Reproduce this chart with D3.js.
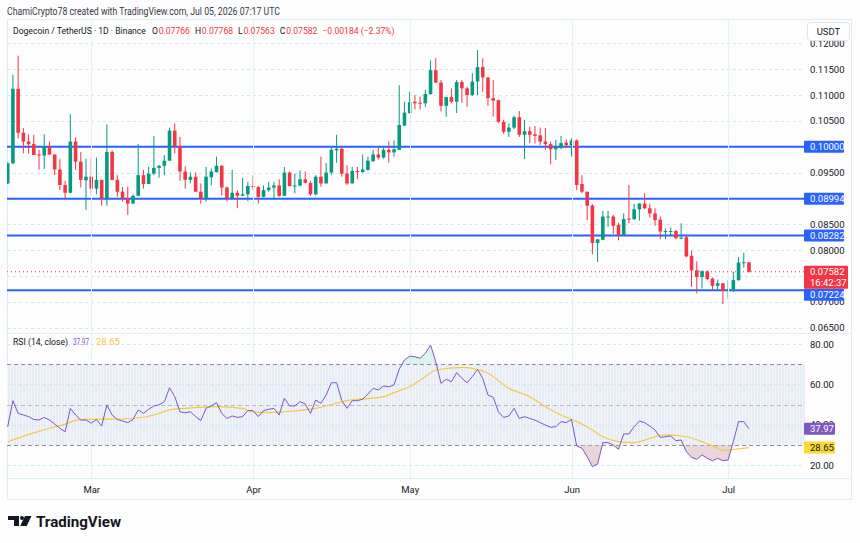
<!DOCTYPE html>
<html>
<head>
<meta charset="utf-8">
<title>Dogecoin / TetherUS 1D</title>
<style>
  body { margin: 0; background: #fdfdfd; }
  svg text { font-family: Roboto, "Liberation Sans", Arial, sans-serif; }
  .axis path, .axis line { display: none; }
  .axis text { font-size: 9.5px; fill: #131722; }
</style>
</head>
<body>
<script src="https://cdn.jsdelivr.net/npm/d3@7/dist/d3.min.js"></script>
<script>
var width = 860, height = 543;

// daily candles, first one on Feb 13 2026
var firstDay = "2026-02-13";
var opens = [
  0.0929, 0.0968, 0.1112, 0.1027, 0.1010, 0.1005, 0.0985, 0.0983, 0.1001, 0.0985,
  0.0956, 0.0926, 0.0911, 0.1010, 0.0971, 0.0935, 0.0942, 0.0919, 0.0936, 0.0900,
  0.0990, 0.0936, 0.0913, 0.0900, 0.0890, 0.0905, 0.0945, 0.0928, 0.0948, 0.0959,
  0.0963, 0.0973, 0.1031, 0.1001, 0.0952, 0.0936, 0.0942, 0.0913, 0.0900, 0.0941,
  0.0951, 0.0963, 0.0921, 0.0900, 0.0911, 0.0905, 0.0908, 0.0924, 0.0922, 0.0903,
  0.0916, 0.0921, 0.0925, 0.0905, 0.0950, 0.0924, 0.0925, 0.0937, 0.0930, 0.0908,
  0.0942, 0.0929, 0.0950, 0.0993, 0.0996, 0.0948, 0.0929, 0.0953, 0.0951, 0.0955,
  0.0972, 0.0985, 0.0979, 0.0994, 0.0989, 0.0994, 0.1041, 0.1065, 0.1087, 0.1085,
  0.1084, 0.1102, 0.1148, 0.1124, 0.1079, 0.1096, 0.1087, 0.1125, 0.1113, 0.1100,
  0.1126, 0.1154, 0.1134, 0.1094, 0.1090, 0.1048, 0.1029, 0.1037, 0.1057, 0.1023,
  0.1030, 0.1024, 0.1022, 0.1010, 0.1005, 0.0995, 0.0998, 0.1008, 0.1003, 0.1012,
  0.0928, 0.0913, 0.0886, 0.0814, 0.0820, 0.0863, 0.0865, 0.0849, 0.0829, 0.0861,
  0.0860, 0.0879, 0.0890, 0.0881, 0.0871, 0.0859, 0.0835, 0.0836, 0.0837, 0.0822,
  0.0825, 0.0789, 0.0761, 0.0748, 0.0759, 0.0745, 0.0731, 0.0736, 0.0721, 0.0724,
  0.0742, 0.0775, 0.07766
];
var highs = [
  0.0970, 0.1139, 0.1176, 0.1036, 0.1024, 0.1023, 0.0994, 0.1024, 0.1010, 0.0985,
  0.0976, 0.0934, 0.1063, 0.1018, 0.0990, 0.0977, 0.0979, 0.0979, 0.0936, 0.1043,
  0.0993, 0.0945, 0.0922, 0.0923, 0.0908, 0.1005, 0.0955, 0.0961, 0.1021, 0.0965,
  0.0984, 0.1037, 0.1045, 0.1019, 0.0962, 0.0950, 0.0950, 0.0929, 0.0961, 0.0958,
  0.0981, 0.0965, 0.0923, 0.0955, 0.0916, 0.0940, 0.0932, 0.0945, 0.0924, 0.0925,
  0.0932, 0.0932, 0.0937, 0.0961, 0.0952, 0.0948, 0.0954, 0.0952, 0.0934, 0.0945,
  0.0981, 0.0968, 0.1000, 0.1023, 0.1000, 0.0964, 0.0961, 0.0961, 0.0985, 0.0981,
  0.0994, 0.1000, 0.1000, 0.1010, 0.1012, 0.1119, 0.1087, 0.1106, 0.1100, 0.1097,
  0.1110, 0.1167, 0.1171, 0.1129, 0.1097, 0.1113, 0.1129, 0.1129, 0.1116, 0.1142,
  0.1187, 0.1171, 0.1134, 0.1129, 0.1091, 0.1052, 0.1045, 0.1060, 0.1069, 0.1052,
  0.1039, 0.1040, 0.1037, 0.1036, 0.1010, 0.1013, 0.1021, 0.1014, 0.1016, 0.1014,
  0.0945, 0.0913, 0.0889, 0.0821, 0.0876, 0.0876, 0.0868, 0.0853, 0.0871, 0.0926,
  0.0889, 0.0891, 0.0910, 0.0890, 0.0881, 0.0865, 0.0842, 0.0844, 0.0839, 0.0852,
  0.0827, 0.0799, 0.0778, 0.0761, 0.0761, 0.0747, 0.0743, 0.0736, 0.0742, 0.0758,
  0.0787, 0.0795, 0.07768
];
var lows = [
  0.0928, 0.0966, 0.1016, 0.0987, 0.0987, 0.0984, 0.0956, 0.0957, 0.0984, 0.0945,
  0.0916, 0.0900, 0.0910, 0.0955, 0.0921, 0.0878, 0.0908, 0.0908, 0.0886, 0.0886,
  0.0935, 0.0903, 0.0894, 0.0868, 0.0890, 0.0904, 0.0919, 0.0928, 0.0945, 0.0940,
  0.0945, 0.0973, 0.0987, 0.0934, 0.0919, 0.0929, 0.0913, 0.0890, 0.0894, 0.0925,
  0.0950, 0.0906, 0.0894, 0.0898, 0.0881, 0.0905, 0.0895, 0.0916, 0.0890, 0.0902,
  0.0913, 0.0898, 0.0903, 0.0905, 0.0923, 0.0910, 0.0923, 0.0929, 0.0905, 0.0906,
  0.0923, 0.0929, 0.0945, 0.0969, 0.0942, 0.0926, 0.0929, 0.0937, 0.0950, 0.0954,
  0.0971, 0.0975, 0.0977, 0.0969, 0.0981, 0.0994, 0.1040, 0.1064, 0.1072, 0.1072,
  0.1077, 0.1100, 0.1123, 0.1068, 0.1058, 0.1084, 0.1065, 0.1085, 0.1077, 0.1098,
  0.1100, 0.1106, 0.1079, 0.1058, 0.1046, 0.1025, 0.1019, 0.1034, 0.1019, 0.0976,
  0.1007, 0.1006, 0.1003, 0.0994, 0.0966, 0.0974, 0.0995, 0.0998, 0.0981, 0.0916,
  0.0910, 0.0858, 0.0792, 0.0777, 0.0819, 0.0845, 0.0831, 0.0819, 0.0828, 0.0852,
  0.0858, 0.0857, 0.0879, 0.0863, 0.0847, 0.0821, 0.0821, 0.0829, 0.0821, 0.0821,
  0.0786, 0.0729, 0.0716, 0.0726, 0.0742, 0.0723, 0.0723, 0.0696, 0.0706, 0.0719,
  0.0741, 0.0766, 0.07563
];
var closes = [
  0.0968, 0.1112, 0.1027, 0.1010, 0.1005, 0.0984, 0.0983, 0.1001, 0.0985, 0.0956,
  0.0926, 0.0911, 0.1010, 0.0971, 0.0936, 0.0942, 0.0919, 0.0936, 0.0900, 0.0990,
  0.0936, 0.0913, 0.0900, 0.0890, 0.0905, 0.0945, 0.0928, 0.0948, 0.0959, 0.0963,
  0.0973, 0.1031, 0.1001, 0.0952, 0.0936, 0.0942, 0.0913, 0.0900, 0.0942, 0.0952,
  0.0963, 0.0921, 0.0900, 0.0911, 0.0905, 0.0908, 0.0924, 0.0922, 0.0903, 0.0916,
  0.0921, 0.0925, 0.0905, 0.0950, 0.0924, 0.0925, 0.0937, 0.0930, 0.0908, 0.0942,
  0.0929, 0.0950, 0.0994, 0.0996, 0.0948, 0.0929, 0.0953, 0.0951, 0.0956, 0.0973,
  0.0985, 0.0979, 0.0994, 0.0989, 0.0995, 0.1042, 0.1066, 0.1086, 0.1084, 0.1084,
  0.1102, 0.1148, 0.1124, 0.1079, 0.1096, 0.1087, 0.1125, 0.1113, 0.1100, 0.1126,
  0.1154, 0.1134, 0.1094, 0.1089, 0.1048, 0.1029, 0.1037, 0.1057, 0.1023, 0.1030,
  0.1023, 0.1021, 0.1010, 0.1005, 0.0995, 0.0999, 0.1007, 0.1003, 0.1012, 0.0926,
  0.0913, 0.0886, 0.0814, 0.0821, 0.0865, 0.0865, 0.0847, 0.0829, 0.0860, 0.0859,
  0.0879, 0.0890, 0.0881, 0.0871, 0.0858, 0.0836, 0.0837, 0.0837, 0.0823, 0.0824,
  0.0788, 0.0761, 0.0748, 0.0759, 0.0744, 0.0731, 0.0736, 0.0721, 0.0724, 0.0742,
  0.0776, 0.07766, 0.07582
];
var rsiValues = [
  39.0, 51.9, 45.6, 44.8, 44.0, 42.6, 42.3, 43.6, 42.3, 40.3,
  38.2, 36.5, 48.1, 44.8, 42.3, 42.3, 40.7, 42.6, 39.3, 49.8,
  44.8, 42.6, 41.8, 41.0, 42.6, 47.3, 45.6, 47.6, 49.3, 49.8,
  51.4, 58.3, 53.9, 46.4, 45.9, 46.4, 44.0, 42.0, 48.1, 49.3,
  50.9, 45.6, 43.1, 44.3, 43.6, 44.0, 47.0, 47.0, 44.0, 47.0,
  47.6, 48.1, 44.8, 53.1, 49.3, 49.3, 51.4, 50.2, 45.6, 52.2,
  50.6, 54.7, 60.8, 60.8, 51.9, 48.1, 51.9, 51.9, 52.6, 55.2,
  58.0, 57.2, 59.2, 58.8, 59.7, 67.5, 72.1, 74.0, 73.7, 72.9,
  75.4, 79.5, 71.2, 60.5, 62.5, 61.3, 65.8, 63.0, 60.8, 63.8,
  67.4, 63.0, 54.7, 53.6, 46.4, 43.6, 44.3, 48.1, 43.1, 44.0,
  43.1, 42.3, 41.0, 39.8, 38.7, 39.0, 41.5, 41.0, 42.6, 29.4,
  28.3, 24.1, 19.2, 20.5, 31.1, 31.1, 29.9, 27.8, 35.4, 35.4,
  39.0, 41.8, 41.0, 39.3, 37.4, 33.7, 34.0, 34.4, 32.1, 32.4,
  26.6, 23.8, 22.8, 25.0, 23.3, 22.1, 23.3, 22.1, 22.5, 31.6,
  41.5, 41.5, 37.97
];
// RSI moving average, read at these days
var maDays = [
  "2026-02-13", "2026-02-18", "2026-02-21", "2026-02-24", "2026-02-27", "2026-03-07",
  "2026-03-13", "2026-03-16", "2026-03-19", "2026-03-25", "2026-03-30", "2026-04-01",
  "2026-04-04", "2026-04-07", "2026-04-13", "2026-04-19", "2026-04-26", "2026-04-29",
  "2026-05-01", "2026-05-04", "2026-05-06", "2026-05-11", "2026-05-13", "2026-05-16",
  "2026-05-20", "2026-05-24", "2026-05-27", "2026-05-30", "2026-06-02", "2026-06-05",
  "2026-06-07", "2026-06-10", "2026-06-13", "2026-06-16", "2026-06-19", "2026-06-23",
  "2026-06-26", "2026-06-29", "2026-06-30", "2026-07-02", "2026-07-05"
];
var maValues = [
  31.5, 35.9, 38.2, 40.3, 42.6, 42.8,
  44.8, 47.3, 48.1, 48.9, 48.1, 46.2,
  46.0, 46.4, 48.1, 51.9, 53.9, 56.9,
  58.8, 63.8, 67.1, 68.4, 67.9, 65.5,
  58.0, 53.9, 48.9, 44.8, 41.5, 37.4,
  34.0, 31.6, 31.1, 33.2, 34.9, 34.0,
  31.6, 28.3, 27.1, 27.7, 28.65
];

var priceTicks = [0.065, 0.070, 0.075, 0.080, 0.085, 0.090, 0.095, 0.100, 0.105, 0.110, 0.115, 0.120];
var axisTicks = [0.065, 0.070, 0.080, 0.085, 0.095, 0.105, 0.110, 0.115, 0.120];
var levels = [0.10000, 0.08994, 0.08282, 0.07224];
var lastPrice = 0.07582;
var countdown = "16:42:37";
var symbolLabel = "Dogecoin / TetherUS · 1D · Binance";
var ohlcLabels = ["O", "H", "L", "C"];
var ohlcValues = ["0.07766", "0.07768", "0.07563", "0.07582"];
var changeLabel = "−0.00184 (−2.37%)";
var rsiTicks = [20, 40, 60, 80];
var rsiLast = 37.97, maLast = 28.65;
var monthDays = ["2026-03-01", "2026-04-01", "2026-05-01", "2026-06-01", "2026-07-01"];

var upColor = "#089981", downColor = "#f23645";

var parseDay = d3.utcParse("%Y-%m-%d");
var day0 = parseDay(firstDay);
var candles = closes.map(function(c, i) {
  return {date: d3.utcDay.offset(day0, i), o: opens[i], h: highs[i], l: lows[i], c: c, rsi: rsiValues[i]};
});
var maData = maDays.map(function(d, i) { return {date: parseDay(d), v: maValues[i]}; });
var months = monthDays.map(parseDay);

var left = 7, right = 805, mainTop = 20, mainBottom = 333, rsiTop = 334, rsiBottom = 478;

var x = d3.scaleUtc()
  .domain([day0, candles[candles.length - 1].date])
  .range([7.7, 749]);
var y = d3.scaleLinear().domain([0.065, 0.12]).range([327.7, 43.3]);
var yr = d3.scaleLinear().domain([20, 80]).range([465, 344]);

var svg = d3.select("body").append("svg")
  .attr("width", width)
  .attr("height", height)
  .style("display", "block");

var defs = svg.append("defs");
defs.append("clipPath").attr("id", "clipMain")
  .append("rect").attr("x", left).attr("y", mainTop).attr("width", right - left).attr("height", mainBottom - mainTop);
defs.append("clipPath").attr("id", "clipRsi")
  .append("rect").attr("x", left).attr("y", rsiTop).attr("width", right - left).attr("height", rsiBottom - rsiTop);
defs.append("clipPath").attr("id", "clipLow")
  .append("rect").attr("x", left).attr("y", yr(30)).attr("width", right - left).attr("height", rsiBottom - yr(30));
defs.append("clipPath").attr("id", "clipHigh")
  .append("rect").attr("x", left).attr("y", rsiTop).attr("width", right - left).attr("height", yr(70) - rsiTop);

var pat = defs.append("pattern").attr("id", "band")
  .attr("patternUnits", "userSpaceOnUse").attr("width", 3).attr("height", 4);
pat.append("rect").attr("width", 3).attr("height", 4).attr("fill", "#f1f6f8");
pat.append("rect").attr("width", 1).attr("height", 4).attr("fill", "#f4e6f3");
pat.append("rect").attr("x", 2).attr("width", 1).attr("height", 4).attr("fill", "#dcf2f8");

var gLow = defs.append("linearGradient").attr("id", "lowFill").attr("x1", 0).attr("x2", 0).attr("y1", 0).attr("y2", 1);
gLow.append("stop").attr("offset", "0%").attr("stop-color", "#e2bcc6").attr("stop-opacity", 0.2);
gLow.append("stop").attr("offset", "100%").attr("stop-color", "#d4a3b0").attr("stop-opacity", 0.5);

// frame
svg.append("rect")
  .attr("x", left + 0.5).attr("y", mainTop - 0.5)
  .attr("width", 844).attr("height", 480)
  .attr("fill", "#fdfdfd").attr("stroke", "#dbeef3");

// header
svg.append("text")
  .attr("x", 7).attr("y", 14.5)
  .attr("font-size", 10).attr("fill", "#363a45")
  .attr("textLength", 273).attr("lengthAdjust", "spacingAndGlyphs")
  .text("ChamiCrypto78 created with TradingView.com, Jul 05, 2026 07:17 UTC");

// price grid
var main = svg.append("g").attr("clip-path", "url(#clipMain)");
main.selectAll(".pgrid")
  .data(priceTicks)
  .enter().append("line")
  .attr("x1", left).attr("x2", right)
  .attr("y1", function(d) { return Math.round(y(d)) + 0.5; })
  .attr("y2", function(d) { return Math.round(y(d)) + 0.5; })
  .attr("stroke", "#cdeaf1").attr("stroke-dasharray", "3,3");

// month grid lines through both panes
svg.selectAll(".vgrid")
  .data(months)
  .enter().append("line")
  .attr("x1", function(d) { return Math.round(x(d)) + 0.5; })
  .attr("x2", function(d) { return Math.round(x(d)) + 0.5; })
  .attr("y1", mainTop).attr("y2", rsiBottom)
  .attr("stroke", "#e3f2f6");

// levels
main.selectAll(".level")
  .data(levels)
  .enter().append("line")
  .attr("x1", left).attr("x2", right)
  .attr("y1", function(d) { return y(d); })
  .attr("y2", function(d) { return y(d); })
  .attr("stroke", "#2962ff").attr("stroke-width", 2);

main.append("line")
  .attr("x1", left).attr("x2", right)
  .attr("y1", y(lastPrice)).attr("y2", y(lastPrice))
  .attr("stroke", downColor).attr("stroke-dasharray", "1,3");

// candles
var cg = main.selectAll(".candle")
  .data(candles)
  .enter().append("g");
cg.append("line")
  .attr("x1", function(d) { return x(d.date); })
  .attr("x2", function(d) { return x(d.date); })
  .attr("y1", function(d) { return y(d.h); })
  .attr("y2", function(d) { return y(d.l); })
  .attr("stroke", function(d) { return d.c >= d.o ? upColor : downColor; })
  .attr("stroke-width", 1);
cg.append("rect")
  .attr("x", function(d) { return x(d.date) - 1.8; })
  .attr("width", 3.6)
  .attr("y", function(d) { return y(Math.max(d.o, d.c)); })
  .attr("height", function(d) { return Math.max(1, Math.abs(y(d.o) - y(d.c))); })
  .attr("fill", function(d) { return d.c >= d.o ? upColor : downColor; });

// pane separators
svg.append("line").attr("x1", left).attr("x2", 851).attr("y1", 333.5).attr("y2", 333.5).attr("stroke", "#e6eef2");
svg.append("line").attr("x1", left).attr("x2", 851).attr("y1", rsiBottom + 0.5).attr("y2", rsiBottom + 0.5).attr("stroke", "#dbeef3");

// RSI pane
var rp = svg.append("g").attr("clip-path", "url(#clipRsi)");
rp.append("rect")
  .attr("x", left).attr("width", right - left)
  .attr("y", yr(70)).attr("height", yr(30) - yr(70))
  .attr("fill", "url(#band)");
rp.selectAll(".rgrid")
  .data(rsiTicks)
  .enter().append("line")
  .attr("x1", left).attr("x2", right)
  .attr("y1", function(d) { return Math.round(yr(d)) + 0.5; })
  .attr("y2", function(d) { return Math.round(yr(d)) + 0.5; })
  .attr("stroke", "#cdeaf1").attr("stroke-dasharray", "3,3");
rp.selectAll(".band")
  .data([70, 50, 30])
  .enter().append("line")
  .attr("x1", left).attr("x2", right)
  .attr("y1", function(d) { return Math.round(yr(d)) + 0.5; })
  .attr("y2", function(d) { return Math.round(yr(d)) + 0.5; })
  .attr("stroke", "#787b86")
  .attr("stroke-opacity", function(d) { return d === 50 ? 0.45 : 0.85; })
  .attr("stroke-dasharray", "4,3");

var lowArea = d3.area()
  .x(function(d) { return x(d.date); })
  .y0(yr(30))
  .y1(function(d) { return yr(d.rsi); });
rp.append("path").datum(candles)
  .attr("clip-path", "url(#clipLow)")
  .attr("d", lowArea)
  .attr("fill", "url(#lowFill)");
var highArea = d3.area()
  .x(function(d) { return x(d.date); })
  .y0(yr(70))
  .y1(function(d) { return yr(d.rsi); });
rp.append("path").datum(candles)
  .attr("clip-path", "url(#clipHigh)")
  .attr("d", highArea)
  .attr("fill", "#8fdccf").attr("fill-opacity", 0.3);

rp.append("path").datum(maData)
  .attr("d", d3.line().curve(d3.curveMonotoneX)
    .x(function(d) { return x(d.date); })
    .y(function(d) { return yr(d.v); }))
  .attr("fill", "none").attr("stroke", "#f7c843").attr("stroke-width", 1.2);
rp.append("path").datum(candles)
  .attr("d", d3.line()
    .x(function(d) { return x(d.date); })
    .y(function(d) { return yr(d.rsi); }))
  .attr("fill", "none").attr("stroke", "#7e57c2").attr("stroke-width", 1);

// axes
svg.append("g").attr("class", "axis")
  .attr("transform", "translate(" + right + ",0)")
  .call(d3.axisRight(y).tickValues(axisTicks).tickFormat(d3.format(".5f")).tickSize(0).tickPadding(5));
svg.append("g").attr("class", "axis")
  .attr("transform", "translate(" + right + ",0)")
  .call(d3.axisRight(yr).tickValues(rsiTicks).tickFormat(d3.format(".2f")).tickSize(0).tickPadding(5));
svg.append("g").attr("class", "axis")
  .attr("transform", "translate(0," + (rsiBottom + 3) + ")")
  .call(d3.axisBottom(x).tickValues(months).tickFormat(d3.utcFormat("%b")).tickSize(0).tickPadding(5));

// price tags; a tag that would run into the last-price tag is pushed below it
var lastTagTop = y(lastPrice) - 6, lastTagH = 23;
function tag(value, scale, fill, color, w, label, avoid) {
  var cy = scale(value);
  if (avoid && cy > lastTagTop - 6 && cy < lastTagTop + lastTagH + 6) cy = lastTagTop + lastTagH + 6;
  var g = svg.append("g");
  g.append("rect")
    .attr("x", right - 1).attr("y", cy - 6)
    .attr("width", w).attr("height", 12).attr("rx", 1)
    .attr("fill", fill);
  g.append("text")
    .attr("x", right + 5).attr("y", cy).attr("dy", "0.35em")
    .attr("font-size", 9.5).attr("fill", color)
    .text(label);
}
levels.forEach(function(v) { tag(v, y, "#2962ff", "#ffffff", 40, d3.format(".5f")(v), true); });

svg.append("rect")
  .attr("x", right - 1).attr("y", lastTagTop)
  .attr("width", 44).attr("height", lastTagH).attr("rx", 1)
  .attr("fill", downColor);
svg.append("text")
  .attr("x", right + 5).attr("y", y(lastPrice)).attr("dy", "0.35em")
  .attr("font-size", 9.5).attr("fill", "#ffffff")
  .text(d3.format(".5f")(lastPrice));
svg.append("text")
  .attr("x", right + 5).attr("y", y(lastPrice) + 10.5).attr("dy", "0.35em")
  .attr("font-size", 9.5).attr("fill", "#ffffff")
  .text(countdown);

tag(rsiLast, yr, "#7e57c2", "#ffffff", 31, d3.format(".2f")(rsiLast));
tag(maLast, yr, "#fdd835", "#131722", 31, d3.format(".2f")(maLast));

// currency box
svg.append("rect")
  .attr("x", 807.5).attr("y", 22.5).attr("width", 42).attr("height", 18).attr("rx", 3)
  .attr("fill", "#ffffff").attr("stroke", "#e0e3eb");
svg.append("text")
  .attr("x", 828.5).attr("y", 31.5).attr("dy", "0.35em").attr("text-anchor", "middle")
  .attr("font-size", 9.5).attr("fill", "#131722")
  .text("USDT");

// legends, pieces laid out one after another at their natural width
function label(xPos, yPos, txt, color, len, size) {
  var t = svg.append("text")
    .attr("x", xPos).attr("y", yPos)
    .attr("font-size", size || 9.5).attr("fill", color)
    .text(txt);
  if (len) t.attr("textLength", len).attr("lengthAdjust", "spacingAndGlyphs");
  return t;
}
var legendSize = 8.6, cursor = 13;
function piece(txt, color, gap) {
  var t = label(cursor, 33.5, txt, color, null, legendSize);
  cursor += t.node().getComputedTextLength() + gap;
}
piece(symbolLabel, "#131722", 6);
ohlcLabels.forEach(function(k, i) {
  piece(k, "#131722", 0.8);
  piece(ohlcValues[i], downColor, 5);
});
piece(changeLabel, downColor, 0);

label(13, 344.5, "RSI (14, close)", "#131722", 55);
label(73, 344.5, d3.format(".2f")(rsiLast), "#7e57c2", 16);
label(96, 344.5, d3.format(".2f")(maLast), "#f7c843", 24);

// logo
var logo = svg.append("g").attr("fill", "#131722");
logo.append("path").attr("d", "M8,516 h11 v10 h-5 v-6 h-6 z");
logo.append("circle").attr("cx", 22).attr("cy", 518).attr("r", 2);
logo.append("path").attr("d", "M25,516 h6.5 l-4.8,10 h-6.5 z");
logo.append("text")
  .attr("x", 36).attr("y", 526.5)
  .attr("font-size", 14).attr("font-weight", 700)
  .attr("textLength", 85).attr("lengthAdjust", "spacingAndGlyphs")
  .text("TradingView");
</script>
</body>
</html>
